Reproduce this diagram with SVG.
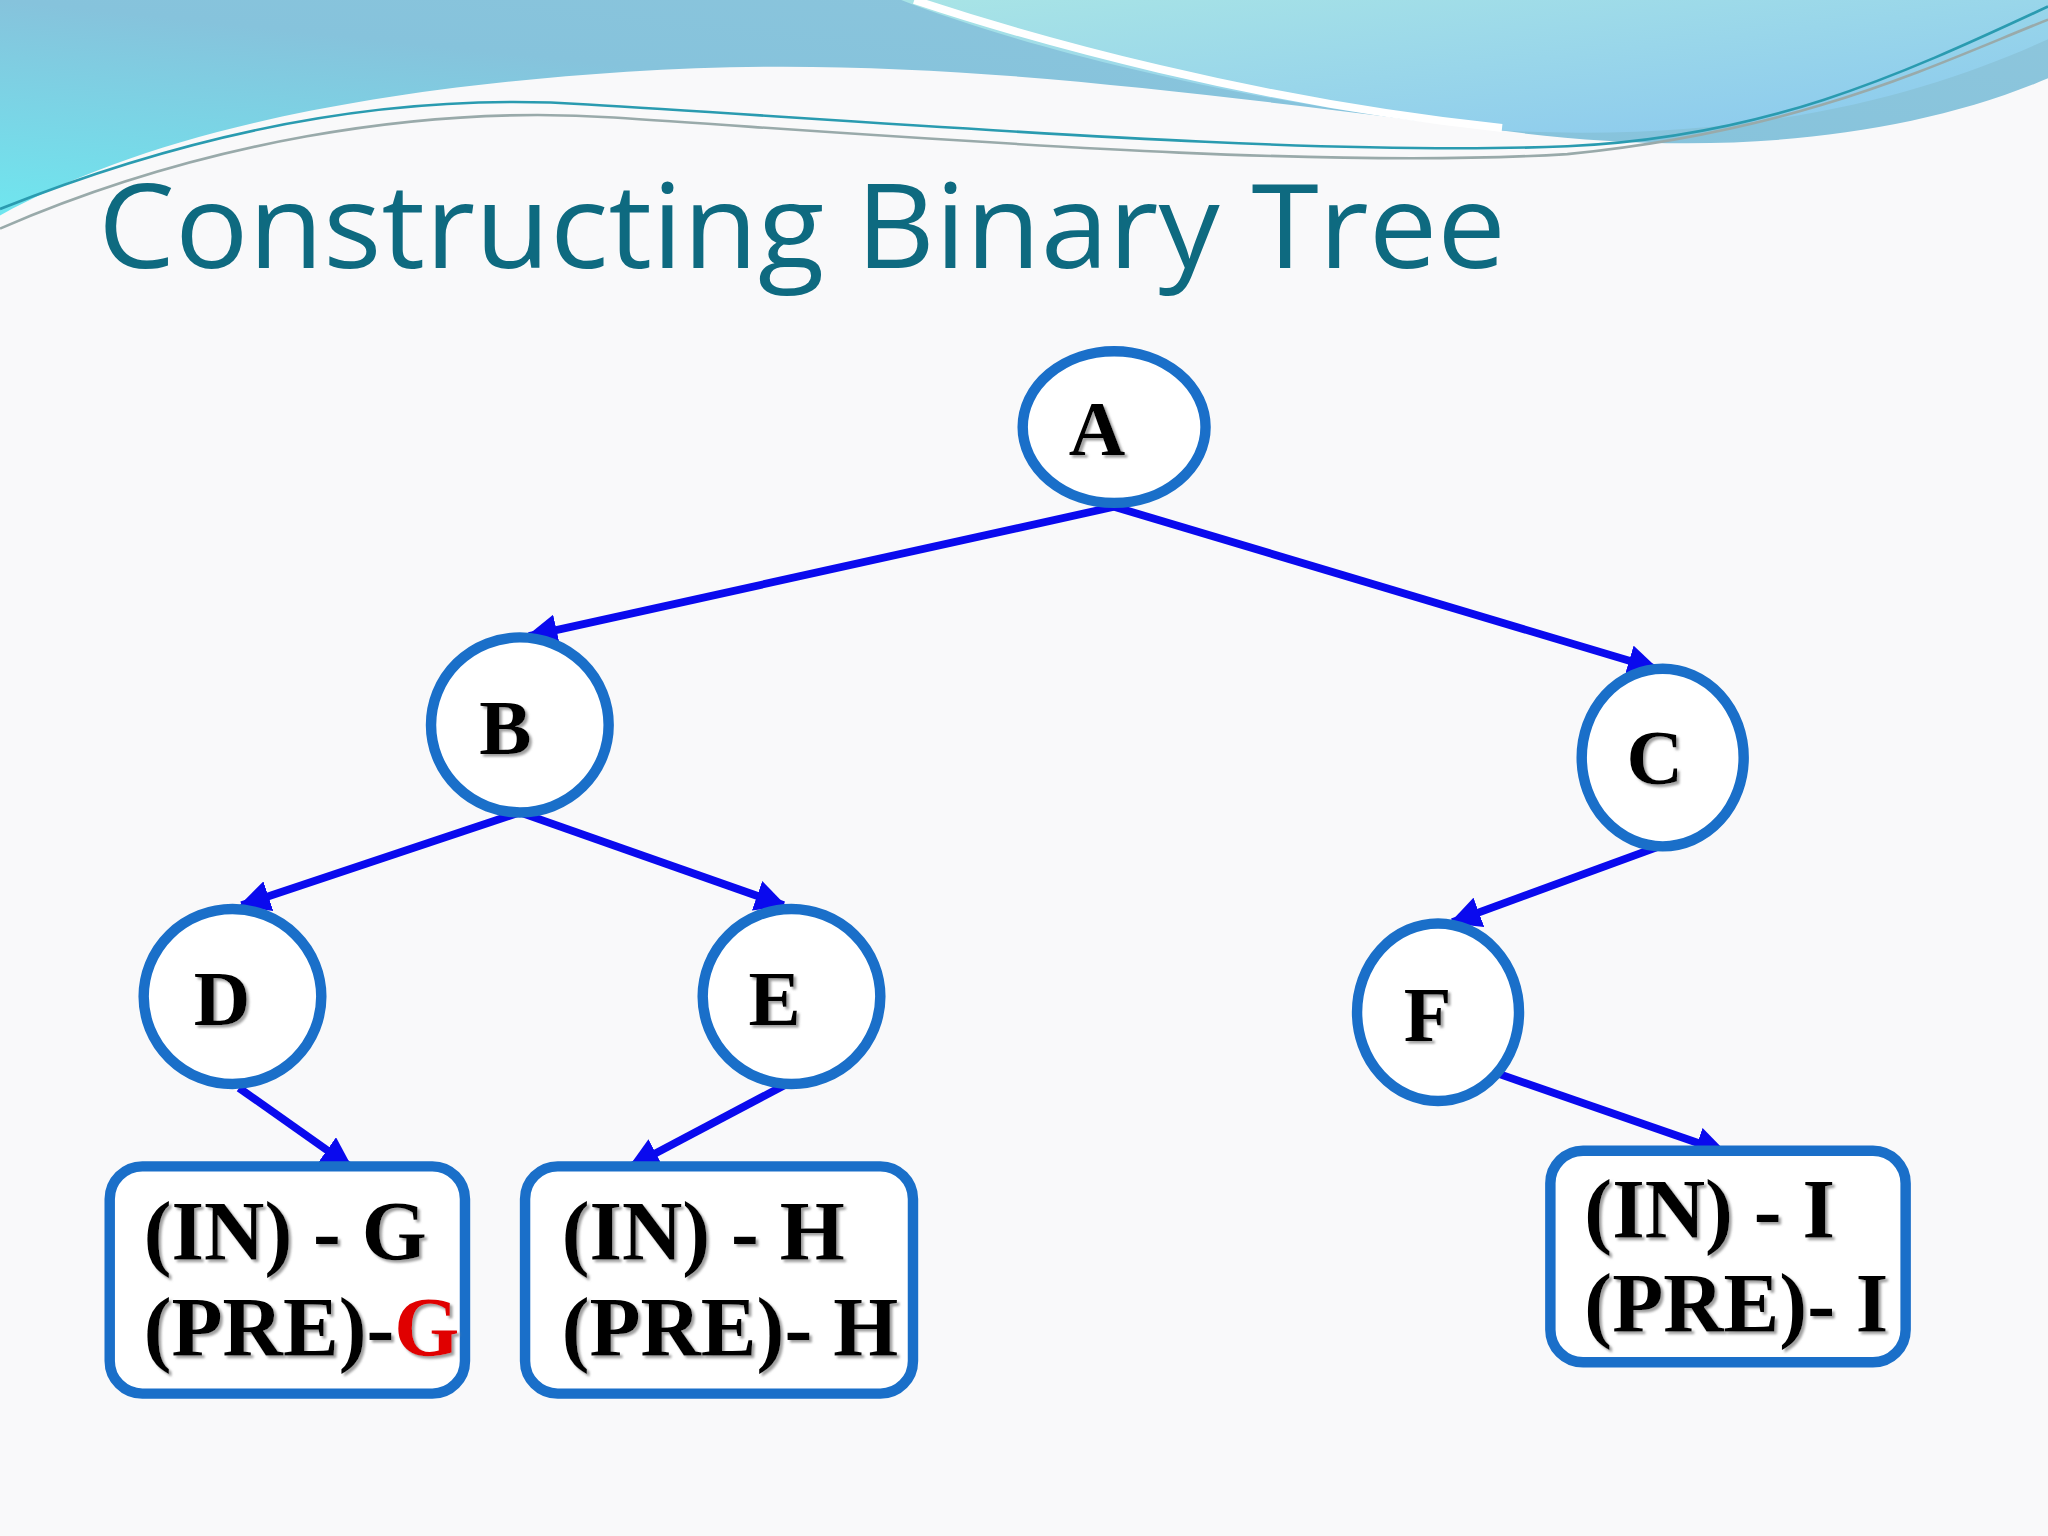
<svg xmlns="http://www.w3.org/2000/svg" width="2048" height="1536" viewBox="0 0 2048 1536">
<defs>
<linearGradient id="w1" x1="0" y1="1" x2="1" y2="0"><stop offset="0" stop-color="#6fe6ef"/><stop offset="0.5" stop-color="#86c3dc"/><stop offset="1" stop-color="#8ec6dc"/></linearGradient>
<linearGradient id="w2" x1="0" y1="0" x2="1" y2="1"><stop offset="0" stop-color="#a8e4e6"/><stop offset="1" stop-color="#8ac8ee"/></linearGradient>
<marker id="ah" viewBox="0 0 10 10" refX="9" refY="5" markerWidth="4" markerHeight="4" orient="auto"><path d="M0,0 L10,5 L0,10 z" fill="#0a0aee"/></marker>
<filter id="sh"><feDropShadow dx="2" dy="2" stdDeviation="1" flood-color="#888" flood-opacity="0.8"/></filter>
<style>
.n{fill:#fff;stroke:#1a6fc9;stroke-width:8}
.t{font-family:"Liberation Serif",serif;font-weight:bold;font-size:60px;fill:#000;filter:url(#sh)}
.bt{font-family:"Liberation Serif",serif;font-weight:bold;font-size:64px;fill:#000;filter:url(#sh)}
.e{stroke:#0a0aee;stroke-width:6;fill:none;marker-end:url(#ah)}
</style>
</defs>
<rect width="2048" height="1536" fill="#f9f9fa"/>
<g transform="scale(1.30612)">
<g id="background">
<path d="M0,0 H1568 V60 C1450,110 1300,120 1150,100 C900,70 700,40 480,55 C250,70 100,110 0,165 Z" fill="url(#w1)"/>
<path d="M690,0 C780,35 950,80 1150,100 C1350,110 1480,70 1568,30 V0 Z" fill="url(#w2)"/>
<path d="M700,0 C790,30 960,78 1150,98" stroke="#fff" stroke-width="6" fill="none"/>
<path d="M0,160 C150,100 300,70 450,80 C700,95 1000,120 1200,112 C1350,105 1450,60 1568,5" stroke="#2a9bb0" stroke-width="2" fill="none"/>
<path d="M0,175 C150,110 320,80 470,90 C700,105 1000,130 1200,118 C1380,100 1480,50 1568,15" stroke="#9aa" stroke-width="2" fill="none"/>
</g>
<text x="75" y="205" font-family="Open Sans, DejaVu Sans, sans-serif" font-size="90" fill="#0e6a80" textLength="1078" lengthAdjust="spacingAndGlyphs">Constructing Binary Tree</text>
<g id="connectors">
<line class="e" x1="853" y1="388" x2="405" y2="487"/>
<line class="e" x1="853" y1="388" x2="1268" y2="512"/>
<line class="e" x1="398" y1="622" x2="185" y2="693"/>
<line class="e" x1="398" y1="622" x2="600" y2="693"/>
<line class="e" x1="1273" y1="647" x2="1112" y2="706"/>
<line class="e" x1="183" y1="833" x2="268" y2="893"/>
<line class="e" x1="606" y1="828" x2="483" y2="893"/>
<line class="e" x1="1147" y1="822" x2="1320" y2="882"/>
</g>
<g id="A"><ellipse class="n" cx="853" cy="327" rx="70" ry="58"/><text class="t" x="840" y="348" text-anchor="middle">A</text></g>
<g id="B"><ellipse class="n" cx="398" cy="555" rx="68" ry="67"/><text class="t" x="387" y="577" text-anchor="middle">B</text></g>
<g id="C"><ellipse class="n" cx="1273" cy="580" rx="62" ry="68"/><text class="t" x="1267" y="600" text-anchor="middle">C</text></g>
<g id="D"><ellipse class="n" cx="178" cy="763" rx="68" ry="67"/><text class="t" x="170" y="785" text-anchor="middle">D</text></g>
<g id="E"><ellipse class="n" cx="606" cy="763" rx="68" ry="67"/><text class="t" x="593" y="785" text-anchor="middle">E</text></g>
<g id="F"><ellipse class="n" cx="1101" cy="775" rx="62" ry="68"/><text class="t" x="1093" y="797" text-anchor="middle">F</text></g>
<g id="G"><rect class="n" x="84" y="893" width="272" height="174" rx="25"/><text class="bt" x="110" y="965">(IN) - G</text><text class="bt" x="110" y="1038">(PRE)-<tspan fill="#e00000">G</tspan></text></g>
<g id="H"><rect class="n" x="402" y="893" width="297" height="174" rx="25"/><text class="bt" x="430" y="965">(IN) - H</text><text class="bt" x="430" y="1038">(PRE)- H</text></g>
<g id="I"><rect class="n" x="1187" y="881" width="272" height="162" rx="25"/><text class="bt" x="1213" y="948">(IN) - I</text><text class="bt" x="1213" y="1020">(PRE)- I</text></g>
</g>
</svg>
